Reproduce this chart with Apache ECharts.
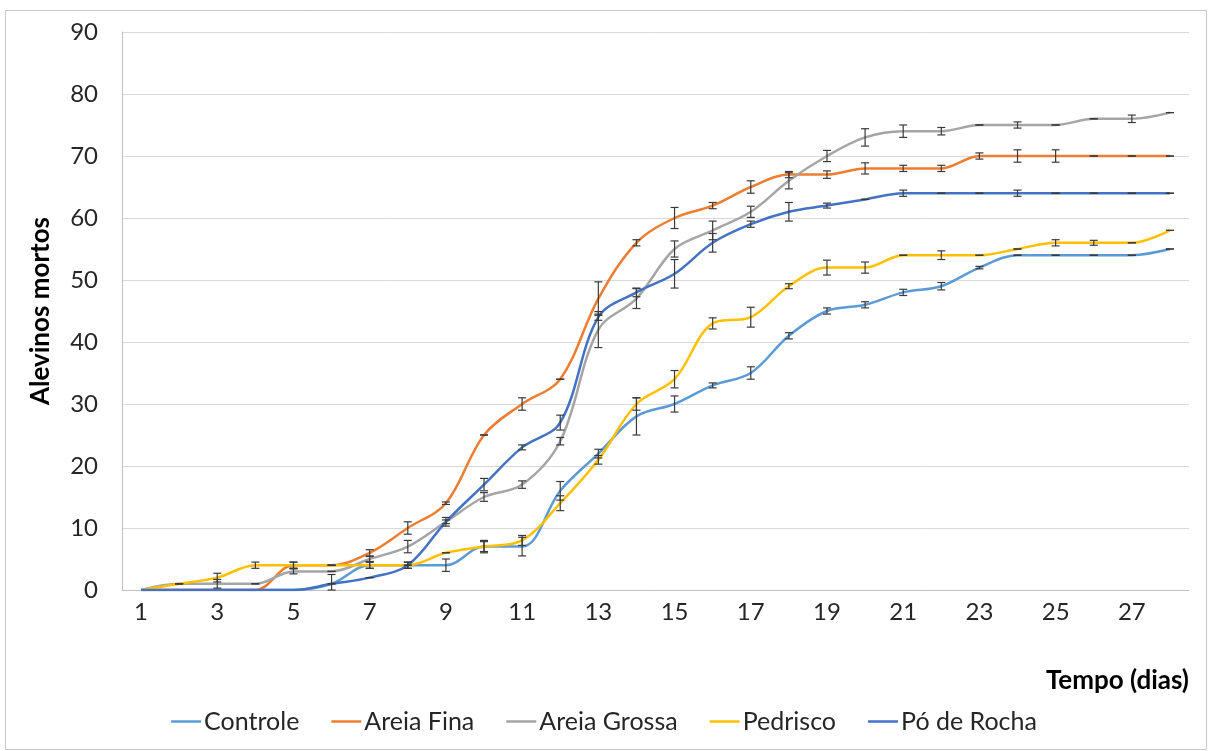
<!DOCTYPE html>
<html>
<head>
<meta charset="utf-8">
<script src="https://cdn.jsdelivr.net/npm/echarts@6/dist/echarts.min.js"></script>
<style>
html,body{margin:0;padding:0;background:#fff;}
#chart{width:1208px;height:751px;}
</style>
</head>
<body>
<div id="chart"></div>
<script>
const days = ['1','2','3','4','5','6','7','8','9','10','11','12','13','14','15','16','17','18','19','20','21','22','23','24','25','26','27','28'];
const seriesNames = ['Controle','Areia Fina','Areia Grossa','Pedrisco','Pó de Rocha'];
const controle    = [0,0,0,0,0,1,4,4,4,7,7,16,22,28,30,33,35,41,45,46,48,49,52,54,54,54,54,55];
const areiaFina   = [0,0,0,0,4,4,6,10,14,25,30,34,47,56,60,62,65,67,67,68,68,68,70,70,70,70,70,70];
const areiaGrossa = [0,1,1,1,3,3,5,7,11,15,17,24,42,47,55,58,61,66,70,73,74,74,75,75,75,76,76,77];
const pedrisco    = [0,1,2,4,4,4,4,4,6,7,8,14,21,30,34,43,44,49,52,52,54,54,54,55,56,56,56,58];
const poDeRocha   = [0,0,0,0,0,1,2,4,11,17,23,27,44,48,51,56,59,61,62,63,64,64,64,64,64,64,64,64];

const errControle    = [0,0,0,0,0,0,0.5,0.5,1,1,1.5,1.5,0.7,3,1.3,0.4,1,0.5,0.5,0.5,0.5,0.6,0.2,0,0,0,0,0];
const errAreiaFina   = [0,0,0,0,0.5,0,0.5,1,0.2,0,1,0,2.7,0.5,1.7,0.5,1,0.5,0.6,0.9,0.5,0.5,0.5,1,1,0,0,0];
const errAreiaGrossa = [0,0,0.7,0,0.4,0,0.4,1,0.3,0.7,0.6,0.6,2.9,1.6,1.3,1.5,0.9,1.3,0.9,1.4,1,0.6,0,0.5,0,0,0.6,0];
const errPedrisco    = [0,0,0.7,0.5,0.5,0,0.5,0,0,0.8,0.8,1.2,0.7,1,1.4,0.9,1.6,0.4,1.2,0.9,0,0.7,0,0,0.5,0.4,0,0];
const errPoDeRocha   = [0,0,0,0,0,1.5,0,0.5,0.7,1,0.4,1.2,0.5,0.7,2.3,1.5,0.5,1.5,0.4,0,0.5,0,0,0.5,0,0,0,0];

const yTicks = {min:0, max:90, interval:10};
const colors = ['#5B9BD5','#ED7D31','#A5A5A5','#FFC000','#4472C4'];
const values = [controle, areiaFina, areiaGrossa, pedrisco, poDeRocha];
const errors = [errControle, errAreiaFina, errAreiaGrossa, errPedrisco, errPoDeRocha];

const FONT = 'Lato';

function errRender(params, api) {
  const x = api.value(0), v = api.value(1), e = api.value(2);
  if (v === 0 && e === 0) return null;
  const top = api.coord([x, v + e]);
  const bot = api.coord([x, Math.max(0, v - e)]);
  const hw = 4;
  const st = {stroke:'#3a3a3a', lineWidth:1.2};
  return {type:'group', children:[
    {type:'line', shape:{x1:top[0], y1:top[1], x2:bot[0], y2:bot[1]}, style:st},
    {type:'line', shape:{x1:top[0]-hw, y1:top[1], x2:top[0]+hw, y2:top[1]}, style:st},
    {type:'line', shape:{x1:bot[0]-hw, y1:bot[1], x2:bot[0]+hw, y2:bot[1]}, style:st}
  ]};
}

const series = [];
values.forEach((vals, i) => {
  series.push({
    name: seriesNames[i], type:'line', data: vals, smooth: 0.35,
    showSymbol:false, symbol:'none',
    lineStyle:{color: colors[i], width:2.5},
    itemStyle:{color: colors[i]}, z: 2
  });
});
values.forEach((vals, i) => {
  series.push({
    type:'custom', renderItem: errRender, silent:true, z: 5,
    encode:{x:0, y:1},
    data: vals.map((v, j) => [j, v, errors[i][j]])
  });
});

const chart = echarts.init(document.getElementById('chart'), null, {renderer:'canvas'});
chart.setOption({
  animation:false,
  backgroundColor:'#fff',
  graphic:[{type:'rect', left:3, top:8, shape:{width:1201, height:739}, style:{fill:'none', stroke:'#c8c8c8', lineWidth:1}, silent:true}],
  grid:{left:122, right:19, top:32, bottom:161},
  legend:{
    data: seriesNames, bottom:12, left:'center', icon:'rect', itemWidth:30, itemHeight:2.5, itemGap:32,
    textStyle:{fontFamily:FONT, fontSize:25, color:'#262626', padding:[0,0,0,-2]}
  },
  xAxis:{
    type:'category', data: days, boundaryGap:true,
    name:'Tempo (dias)', nameLocation:'end', nameGap:0,
    nameTextStyle:{fontFamily:FONT, fontSize:26, fontWeight:'bold', color:'#000', align:'right', verticalAlign:'top', padding:[78,0,0,0]},
    axisLine:{lineStyle:{color:'#bfbfbf', width:1}},
    axisTick:{show:false},
    axisLabel:{interval:1, fontFamily:FONT, fontSize:24, color:'#262626', margin:10}
  },
  yAxis:{
    type:'value', min:yTicks.min, max:yTicks.max, interval:yTicks.interval,
    name:'Alevinos mortos', nameLocation:'middle', nameGap:68, nameRotate:90,
    nameTextStyle:{fontFamily:FONT, fontSize:26, fontWeight:'bold', color:'#000'},
    axisLine:{show:true, lineStyle:{color:'#bfbfbf', width:1}},
    axisTick:{show:false},
    splitLine:{lineStyle:{color:'#d9d9d9', width:1}},
    axisLabel:{fontFamily:FONT, fontSize:24, color:'#262626', margin:24}
  },
  series: series
});
</script>
</body>
</html>
